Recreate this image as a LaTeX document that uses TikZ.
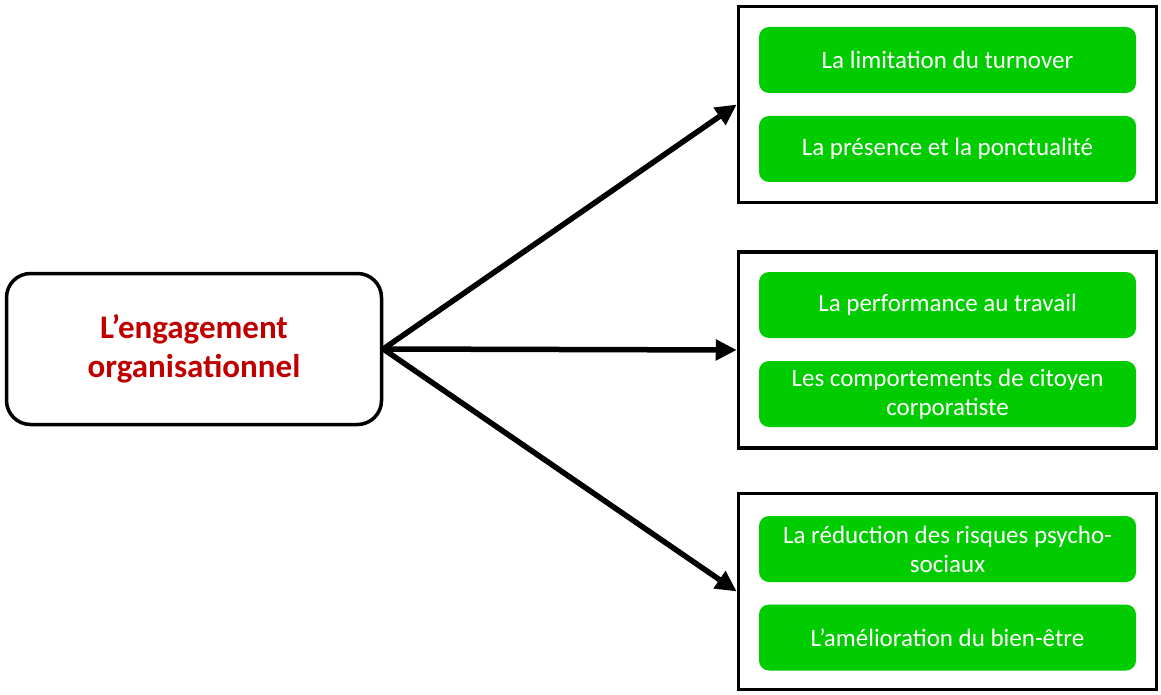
\documentclass[tikz,border=0pt]{standalone}
\usepackage{fontspec}
\setmainfont{Carlito}
\usetikzlibrary{arrows.meta}
\definecolor{engred}{HTML}{C00000}
\definecolor{itemgreen}{HTML}{00CC00}
\begin{document}
\begin{tikzpicture}[x=1pt,y=-1pt,
  mainbox/.style={draw=black,line width=3.5pt,rounded corners=24pt,fill=white,
    minimum width=375pt,minimum height=151pt,align=center,
    font=\fontsize{33}{39}\selectfont\bfseries,text=engred},
  groupbox/.style={draw=black,line width=3.5pt,fill=white,
    minimum width=418pt,minimum height=196pt},
  itembox/.style={fill=itemgreen,rounded corners=10pt,
    minimum width=377pt,minimum height=66pt,align=center,
    font=\fontsize{25}{29}\selectfont,text=white,inner sep=2pt},
  link/.style={line width=5.5pt,-{Triangle[length=21pt,width=20pt]}}]
\useasboundingbox (0,0) rectangle (1161,695);

% source
\node[mainbox] (src) at (194,349) {L’engagement\\organisationnel};

% the three groups of consequences
\node[groupbox] (g1) at (947.5,104.5) {};
\node[groupbox] (g2) at (947.5,350) {};
\node[groupbox] (g3) at (947.5,591.5) {};

\node[itembox] (i1) at (947.5,60) {La limitation du turnover};
\node[itembox] (i2) at (947.5,149) {La présence et la ponctualité};
\node[itembox] (i3) at (947.5,305) {La performance au travail};
\node[itembox] (i4) at (947.5,394) {Les comportements de citoyen\\corporatiste};
\node[itembox] (i5) at (947.5,549) {La réduction des risques psycho-\\sociaux};
\node[itembox] (i6) at (947.5,637.5) {L’amélioration du bien-être};

% connectors
\draw[link] (src.east) -- (g1.west);
\draw[link] (src.east) -- (g2.west);
\draw[link] (src.east) -- (g3.west);
\end{tikzpicture}
\end{document}
